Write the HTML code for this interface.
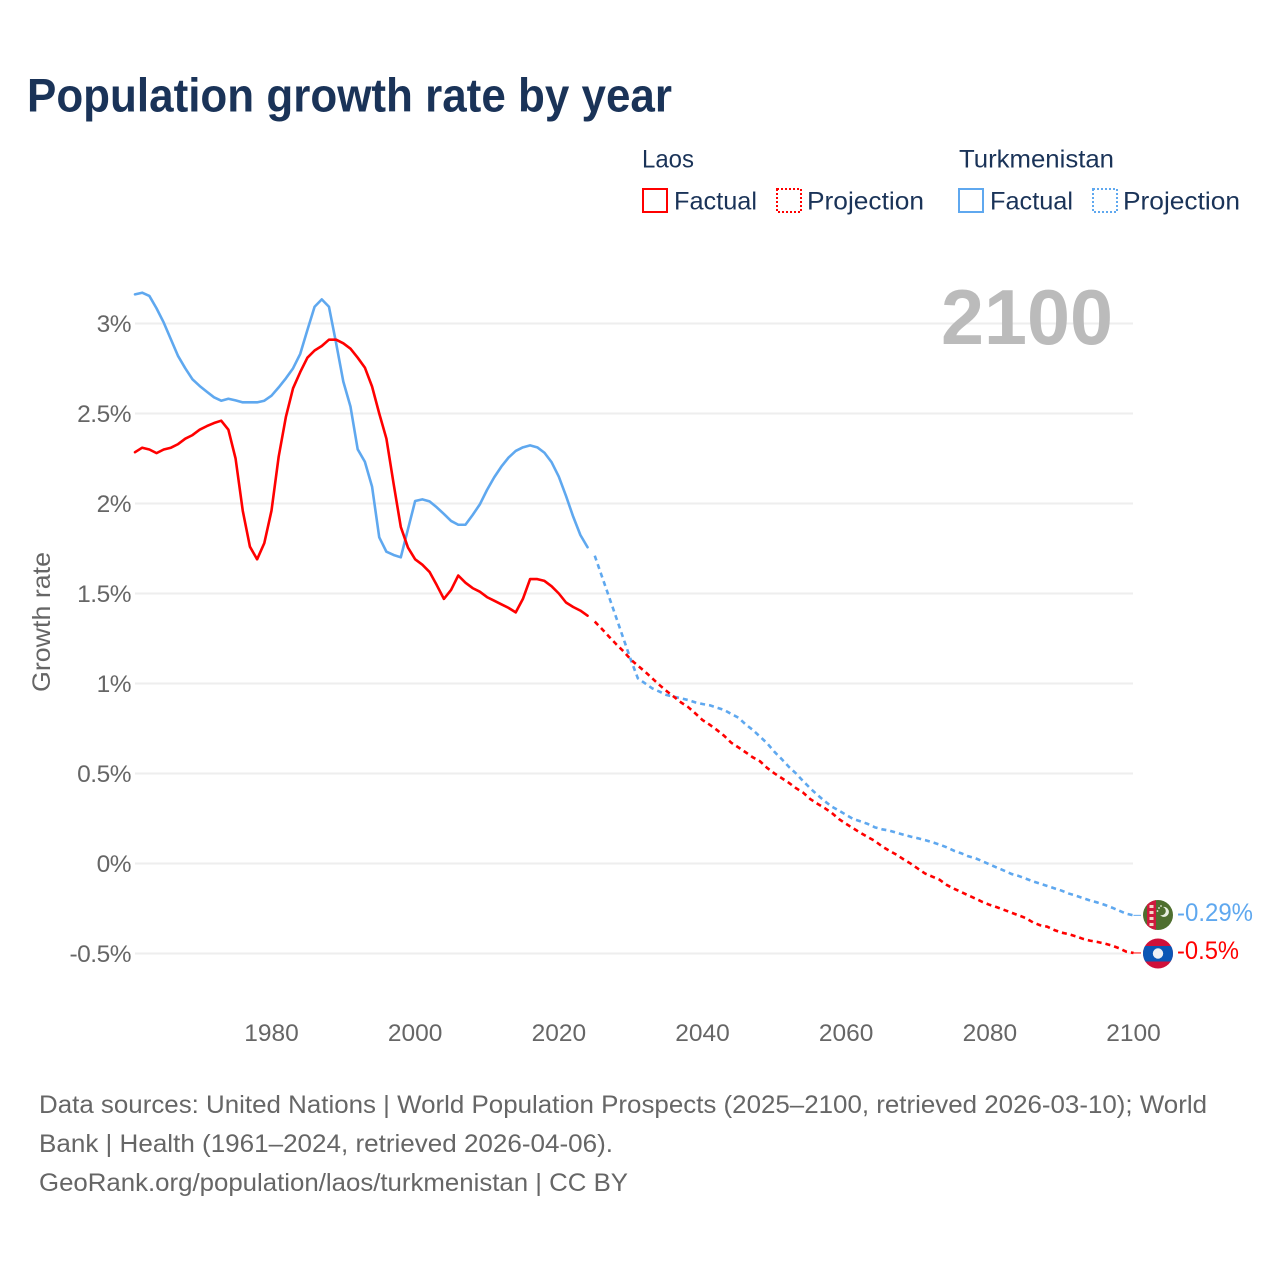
<!DOCTYPE html>
<html lang="en">
<head>
<meta charset="utf-8">
<title>Population growth rate by year</title>
<style>
  html, body { margin: 0; padding: 0; background: #fff; width: 1280px; height: 1280px; overflow: hidden; }
  svg { display: block; font-family: "Liberation Sans", sans-serif; }
  .tick { font-size: 24.5px; fill: #666; }
  .ytick { letter-spacing: -0.5px; }
  .note { font-size: 25px; fill: #666; }
  .legend { font-size: 25px; fill: #1a3358; }
</style>
</head>
<body>
<svg id="chart" xmlns="http://www.w3.org/2000/svg" width="1280" height="1280" viewBox="0 0 1280 1280">
  <defs>
    <clipPath id="clip-tm"><circle cx="1158" cy="915" r="15"/></clipPath>
    <clipPath id="clip-la"><circle cx="1158" cy="953.5" r="15"/></clipPath>
  </defs>
  <rect width="1280" height="1280" fill="#fff"/>
  <text x="27" y="111.5" font-size="47" font-weight="700" fill="#1a3358" textLength="645" lengthAdjust="spacingAndGlyphs">Population growth rate by year</text>

  <g>
    <text class="legend" x="642" y="167.5" textLength="52" lengthAdjust="spacingAndGlyphs">Laos</text>
    <text class="legend" x="959" y="167.5" textLength="155" lengthAdjust="spacingAndGlyphs">Turkmenistan</text>
    <g>
      <rect x="643" y="189" width="24" height="23" fill="none" stroke="#ff0000" stroke-width="2"/>
      <text class="legend" x="674" y="209.5" textLength="83" lengthAdjust="spacingAndGlyphs">Factual</text>
    </g>
    <g>
      <rect x="777" y="189" width="24" height="23" fill="none" stroke="#ff0000" stroke-width="2" stroke-dasharray="2 2"/>
      <text class="legend" x="807" y="209.5" textLength="117" lengthAdjust="spacingAndGlyphs">Projection</text>
    </g>
    <g>
      <rect x="959" y="189" width="24" height="23" fill="none" stroke="#5fa8ef" stroke-width="2"/>
      <text class="legend" x="990" y="209.5" textLength="83" lengthAdjust="spacingAndGlyphs">Factual</text>
    </g>
    <g>
      <rect x="1093" y="189" width="24" height="23" fill="none" stroke="#5fa8ef" stroke-width="2" stroke-dasharray="2 2"/>
      <text class="legend" x="1123" y="209.5" textLength="117" lengthAdjust="spacingAndGlyphs">Projection</text>
    </g>
  </g>

  <g id="grid"></g>
  <g id="y-ticks"></g>
  <g id="x-ticks"></g>

  <text transform="translate(50,622) rotate(-90)" text-anchor="middle" font-size="25" fill="#666" textLength="140" lengthAdjust="spacingAndGlyphs">Growth rate</text>
  <text x="941" y="344" font-size="78" font-weight="700" fill="#bbbbbb" textLength="172" lengthAdjust="spacingAndGlyphs">2100</text>

  <g id="series"></g>

  <g clip-path="url(#clip-tm)">
    <rect x="1143" y="900" width="30" height="30" fill="#4f6f2f"/>
    <rect x="1147" y="900" width="9" height="30" fill="#ce1a3c"/>
    <rect x="1149.5" y="905" width="4" height="3" fill="#f3d8c8"/>
    <rect x="1149.5" y="911" width="4" height="3" fill="#f3d8c8"/>
    <rect x="1149.5" y="917" width="4" height="3" fill="#f3d8c8"/>
    <rect x="1149.5" y="923" width="4" height="3" fill="#f3d8c8"/>
    <path d="M1163 907 a5 5 0 1 1 -3 8 a4 4 0 0 0 3 -8z" fill="#e8efe0"/>
    <circle cx="1159" cy="908" r="0.9" fill="#e8efe0"/>
    <circle cx="1157.5" cy="911" r="0.9" fill="#e8efe0"/>
    <circle cx="1161" cy="906" r="0.9" fill="#e8efe0"/>
  </g>
  <g clip-path="url(#clip-la)">
    <rect x="1143" y="938" width="30" height="31" fill="#d0103a"/>
    <rect x="1143" y="946" width="30" height="15.5" fill="#0b56b5"/>
    <circle cx="1158" cy="953.5" r="5.2" fill="#eef0f4"/>
  </g>

  <text x="1177" y="921" font-size="25" fill="#5fa8ef" textLength="76" lengthAdjust="spacingAndGlyphs">-0.29%</text>
  <text x="1177" y="959" font-size="25" fill="#ff0000" textLength="62" lengthAdjust="spacingAndGlyphs">-0.5%</text>

  <g>
    <text class="note" x="39" y="1113" textLength="1168" lengthAdjust="spacingAndGlyphs">Data sources: United Nations | World Population Prospects (2025–2100, retrieved 2026-03-10); World</text>
    <text class="note" x="39" y="1152" textLength="574" lengthAdjust="spacingAndGlyphs">Bank | Health (1961–2024, retrieved 2026-04-06).</text>
    <text class="note" x="39" y="1191" textLength="589" lengthAdjust="spacingAndGlyphs">GeoRank.org/population/laos/turkmenistan | CC BY</text>
  </g>
</svg>
<script>
const factualYears = [1961,1962,1963,1964,1965,1966,1967,1968,1969,1970,1971,1972,1973,1974,1975,1976,1977,1978,1979,1980,1981,1982,1983,1984,1985,1986,1987,1988,1989,1990,1991,1992,1993,1994,1995,1996,1997,1998,1999,2000,2001,2002,2003,2004,2005,2006,2007,2008,2009,2010,2011,2012,2013,2014,2015,2016,2017,2018,2019,2020,2021,2022,2023,2024];
const projectionYears = [2025,2026,2027,2028,2029,2030,2031,2032,2033,2034,2035,2036,2037,2038,2039,2040,2041,2042,2043,2044,2045,2046,2047,2048,2049,2050,2051,2052,2053,2054,2055,2056,2057,2058,2059,2060,2061,2062,2063,2064,2065,2066,2067,2068,2069,2070,2071,2072,2073,2074,2075,2076,2077,2078,2079,2080,2081,2082,2083,2084,2085,2086,2087,2088,2089,2090,2091,2092,2093,2094,2095,2096,2097,2098,2099,2100];
const laosFactual = [2.285,2.31,2.30,2.28,2.30,2.31,2.33,2.36,2.38,2.41,2.43,2.447,2.46,2.41,2.25,1.96,1.76,1.69,1.78,1.96,2.26,2.48,2.64,2.73,2.81,2.85,2.875,2.91,2.91,2.89,2.86,2.81,2.755,2.65,2.50,2.36,2.11,1.87,1.755,1.69,1.66,1.62,1.547,1.47,1.52,1.60,1.56,1.53,1.51,1.48,1.46,1.44,1.42,1.395,1.47,1.58,1.58,1.57,1.54,1.50,1.45,1.425,1.405,1.377];
const turkmenistanFactual = [3.162,3.171,3.153,3.084,3.005,2.912,2.819,2.751,2.69,2.653,2.621,2.59,2.571,2.582,2.573,2.562,2.562,2.562,2.571,2.599,2.645,2.695,2.751,2.831,2.964,3.093,3.134,3.093,2.89,2.677,2.538,2.301,2.232,2.094,1.812,1.732,1.714,1.701,1.857,2.014,2.023,2.012,1.979,1.942,1.903,1.882,1.882,1.936,1.995,2.075,2.145,2.205,2.255,2.292,2.312,2.323,2.312,2.282,2.229,2.149,2.042,1.927,1.825,1.757];
const laosProjection = [1.344,1.303,1.26,1.218,1.179,1.134,1.099,1.066,1.029,0.992,0.958,0.927,0.895,0.869,0.834,0.797,0.771,0.742,0.71,0.671,0.645,0.618,0.59,0.568,0.531,0.501,0.475,0.449,0.419,0.394,0.358,0.332,0.308,0.281,0.247,0.22,0.195,0.17,0.147,0.125,0.095,0.071,0.049,0.023,-0.001,-0.029,-0.056,-0.073,-0.09,-0.119,-0.14,-0.158,-0.177,-0.195,-0.214,-0.23,-0.243,-0.258,-0.273,-0.288,-0.303,-0.327,-0.343,-0.351,-0.37,-0.384,-0.393,-0.405,-0.419,-0.429,-0.436,-0.445,-0.456,-0.471,-0.49,-0.497];
const turkmenistanProjection = [1.71,1.595,1.48,1.365,1.249,1.134,1.029,1.001,0.973,0.955,0.936,0.927,0.918,0.908,0.895,0.886,0.879,0.866,0.853,0.831,0.81,0.773,0.742,0.705,0.668,0.621,0.581,0.538,0.501,0.458,0.418,0.381,0.347,0.316,0.294,0.27,0.247,0.234,0.22,0.201,0.19,0.183,0.171,0.16,0.149,0.14,0.13,0.118,0.105,0.09,0.071,0.057,0.04,0.029,0.012,-0.006,-0.023,-0.04,-0.058,-0.069,-0.084,-0.099,-0.112,-0.125,-0.138,-0.151,-0.167,-0.179,-0.193,-0.206,-0.217,-0.23,-0.245,-0.262,-0.279,-0.288];
const yTickValues = [3,2.5,2,1.5,1,0.5,0,-0.5];
const yTickLabels = ["3%","2.5%","2%","1.5%","1%","0.5%","0%","-0.5%"];
const xTickValues = [1980,2000,2020,2040,2060,2080,2100];
const xTickLabels = ["1980","2000","2020","2040","2060","2080","2100"];

const NS = "http://www.w3.org/2000/svg";
const xScale = function (year) { return 135 + (year - 1961) * (1133.5 - 135) / (2100 - 1961); };
const yScale = function (value) { return 863.5 - value * 180; };

function linePath(years, values) {
  return years.map(function (yr, i) {
    return (i ? "L" : "M") + xScale(yr).toFixed(2) + " " + yScale(values[i]).toFixed(2);
  }).join(" ");
}

const gridGroup = document.getElementById("grid");
const yTickGroup = document.getElementById("y-ticks");
const xTickGroup = document.getElementById("x-ticks");
const seriesGroup = document.getElementById("series");

yTickValues.forEach(function (v, i) {
  const line = document.createElementNS(NS, "line");
  
  
  line.setAttribute("x1", 135);
  line.setAttribute("x2", 1133);
  line.setAttribute("y1", yScale(v));
  line.setAttribute("y2", yScale(v));
  line.setAttribute("stroke", "#eeeeee");
  line.setAttribute("stroke-width", 2);
  gridGroup.appendChild(line);

  const label = document.createElementNS(NS, "text");
  
  
  label.setAttribute("class", "tick ytick");
  label.setAttribute("x", 131);
  label.setAttribute("y", yScale(v) + 8.5);
  label.setAttribute("text-anchor", "end");
  label.textContent = yTickLabels[i];
  yTickGroup.appendChild(label);
});

xTickValues.forEach(function (v, i) {
  const label = document.createElementNS(NS, "text");
  
  
  label.setAttribute("class", "tick");
  label.setAttribute("x", xScale(v));
  label.setAttribute("y", 1041);
  label.setAttribute("text-anchor", "middle");
  label.textContent = xTickLabels[i];
  xTickGroup.appendChild(label);
});

function addLine(name, years, values, color, dashed) {
  const path = document.createElementNS(NS, "path");
  
  
  path.setAttribute("d", linePath(years, values));
  path.setAttribute("fill", "none");
  path.setAttribute("stroke", color);
  path.setAttribute("stroke-width", 2.6);
  path.setAttribute("stroke-linejoin", "round");
  if (dashed) {
    path.setAttribute("stroke-dasharray", "5 4");
  } else {
    path.setAttribute("stroke-linecap", "round");
  }
  seriesGroup.appendChild(path);
}

function addConnector(name, value, color) {
  const conn = document.createElementNS(NS, "line");
  
  
  conn.setAttribute("x1", xScale(2100));
  conn.setAttribute("x2", 1141);
  conn.setAttribute("y1", yScale(value));
  conn.setAttribute("y2", yScale(value));
  conn.setAttribute("stroke", color);
  conn.setAttribute("stroke-width", 1);
  seriesGroup.appendChild(conn);
}

addLine("turkmenistan-factual-line", factualYears, turkmenistanFactual, "#5fa8ef", false);
addLine("laos-factual-line", factualYears, laosFactual, "#ff0000", false);
addLine("turkmenistan-projection-line", projectionYears, turkmenistanProjection, "#5fa8ef", true);
addLine("laos-projection-line", projectionYears, laosProjection, "#ff0000", true);
addConnector("turkmenistan-end-connector", turkmenistanProjection[turkmenistanProjection.length - 1], "#5fa8ef");
addConnector("laos-end-connector", laosProjection[laosProjection.length - 1], "#ff0000");
</script>
</body>
</html>
